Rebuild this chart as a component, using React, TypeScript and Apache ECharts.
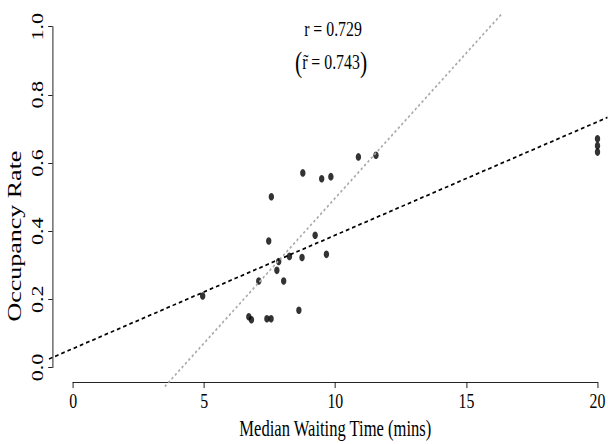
import React, { useEffect, useRef } from "react";
import * as echarts from "echarts";

// Horizontal squeeze of the original figure (it was rendered wider, then narrowed)
const S = 0.72;
const W = 608 / S;
const H = 444;
const FONT = "Liberation Serif";

// Data points: median waiting time (mins) vs occupancy rate
const waitTimes = [8.76, 9.48, 9.83, 7.56, 7.46, 9.23, 8.25, 8.73, 9.66, 7.84, 7.77, 7.08, 8.03, 4.94, 8.61, 6.7, 6.8, 7.39, 7.55, 10.88, 11.55, 20.0, 20.0, 20.0];
const occupancy = [0.571, 0.554, 0.56, 0.501, 0.371, 0.388, 0.326, 0.323, 0.332, 0.311, 0.285, 0.254, 0.254, 0.21, 0.168, 0.149, 0.14, 0.143, 0.143, 0.618, 0.623, 0.671, 0.651, 0.632];

// Fitted lines (end points, at the plot-region edges)
const fitLineX = [-0.8, 20.8];
const fitLineY = [0.0396, 0.738];
const robustLineX = [3.68, 16.74];
const robustLineY = [-0.04, 1.04];

// Axis ticks
const xTicks = { min: 0, max: 20, interval: 5 };
const yTicks = { min: 0, max: 1, interval: 0.2 };
// Full plot region (4% padding beyond the tick range)
const xRegion = [-0.8, 20.8];
const yRegion = [-0.04, 1.04];

const annotation1 = "r = 0.729";
const annotation2 = "r\u0303 = 0.743";

export default function App() {
  const ref = useRef<HTMLDivElement>(null);
  useEffect(() => {
    if (!ref.current) return;
    const chart = echarts.init(ref.current, null, { renderer: "svg" });
    // layout of the tick range [0,20]x[0,1]
    const left0 = 70 / S;
    const width0 = (597.5 - 70) / S;
    const top0 = 26.7;
    const height0 = 346;
    const pxX = width0 / (xTicks.max - xTicks.min);
    const pxY = height0 / (yTicks.max - yTicks.min);
    const left1 = left0 + (xRegion[0] - xTicks.min) * pxX;
    const width1 = (xRegion[1] - xRegion[0]) * pxX;
    const top1 = top0 - (yRegion[1] - yTicks.max) * pxY;
    const height1 = (yRegion[1] - yRegion[0]) * pxY;
    chart.setOption({
      animation: false,
      backgroundColor: "#ffffff",
      grid: [
        { left: left0, top: top0, width: width0, height: height0, containLabel: false },
        { left: left1, top: top1, width: width1, height: height1, containLabel: false },
      ],
      xAxis: [
        {
          type: "value",
          gridIndex: 0,
          min: xTicks.min,
          max: xTicks.max,
          interval: xTicks.interval,
          offset: 14.6,
          axisLine: { show: true, onZero: false, lineStyle: { color: "#000", width: 1 } },
          axisTick: { show: true, length: 6, lineStyle: { color: "#000", width: 1 } },
          axisLabel: { fontFamily: FONT, fontSize: 22, color: "#000", margin: 7 },
          splitLine: { show: false },
          name: "Median Waiting Time (mins)",
          nameLocation: "middle",
          nameGap: 31,
          nameTextStyle: { fontFamily: FONT, fontSize: 23, color: "#000" },
        },
        {
          type: "value",
          gridIndex: 1,
          min: xRegion[0],
          max: xRegion[1],
          show: false,
        },
      ],
      yAxis: [
        {
          type: "value",
          gridIndex: 0,
          min: yTicks.min,
          max: yTicks.max,
          interval: yTicks.interval,
          offset: 28.7,
          axisLine: { show: true, onZero: false, lineStyle: { color: "#000", width: 1 } },
          axisTick: { show: true, length: 6, lineStyle: { color: "#000", width: 1 } },
          axisLabel: {
            fontFamily: FONT,
            fontSize: 22,
            color: "#000",
            rotate: 90,
            margin: 9,
            formatter: (v: number) => v.toFixed(1),
          },
          splitLine: { show: false },
          name: "Occupancy Rate",
          nameLocation: "middle",
          nameRotate: 90,
          nameGap: 30,
          nameTextStyle: { fontFamily: FONT, fontSize: 26, color: "#000", padding: [0, 78, 0, 0] },
        },
        {
          type: "value",
          gridIndex: 1,
          min: yRegion[0],
          max: yRegion[1],
          show: false,
        },
      ],
      graphic: [
        {
          type: "text",
          x: 333 / S,
          y: 29,
          style: { text: annotation1, fontFamily: FONT, fontSize: 22, fill: "#000", align: "center", verticalAlign: "middle" },
        },
        {
          type: "text",
          x: 331 / S,
          y: 62,
          style: {
            text: "{p|(}" + annotation2 + "{p|)}",
            fontFamily: FONT,
            fontSize: 22,
            fill: "#000",
            align: "center",
            verticalAlign: "middle",
            rich: { p: { fontFamily: FONT, fontSize: 30, fill: "#000" } },
          },
        },
      ],
      series: [
        {
          type: "line",
          xAxisIndex: 1,
          yAxisIndex: 1,
          data: fitLineX.map((x, i) => [x, fitLineY[i]]),
          clip: false,
          symbol: "none",
          silent: true,
          lineStyle: { color: "#000", width: 1.8, type: [5, 4] },
        },
        {
          type: "line",
          xAxisIndex: 1,
          yAxisIndex: 1,
          data: robustLineX.map((x, i) => [x, robustLineY[i]]),
          clip: false,
          symbol: "none",
          silent: true,
          lineStyle: { color: "#aaaaaa", width: 2, type: [3, 3] },
        },
        {
          type: "scatter",
          xAxisIndex: 0,
          yAxisIndex: 0,
          data: waitTimes.map((x, i) => [x, occupancy[i]]),
          symbol: "circle",
          symbolSize: 7.5,
          clip: false,
          itemStyle: { color: "#000" },
        },
      ],
    });
    return () => chart.dispose();
  }, []);
  return (
    <div style={{ position: "fixed", left: 0, top: 0, width: 608, height: H, overflow: "hidden", background: "#fff" }}>
      <div
        ref={ref}
        style={{ width: W, height: H, transform: `scaleX(${S})`, transformOrigin: "0 0" }}
      />
    </div>
  );
}
